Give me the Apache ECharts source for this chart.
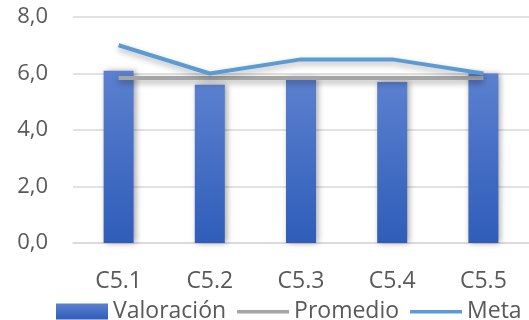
<!DOCTYPE html>
<html><head><meta charset="utf-8">
<script src="https://cdn.jsdelivr.net/npm/echarts@6/dist/echarts.min.js"></script>
<style>html,body{margin:0;padding:0;background:#fff}#c{width:529px;height:320px}</style>
</head><body><div id="c"></div>
<script>
const categories = ['C5.1','C5.2','C5.3','C5.4','C5.5'];
const valoracion = [6.1, 5.6, 5.8, 5.7, 6.0];
const promedio = [5.84, 5.84, 5.84, 5.84, 5.84];
const meta = [7.0, 6.0, 6.5, 6.5, 6.0];
const yTicks = [0, 2, 4, 6, 8];

const FONT = 'Open Sans';
const LINE_ICON = 'path://M0,0h0.01v0.01h-0.01z M0,6.5h52v3.5h-52z M51.99,16h0.01v0.01h-0.01z';
const chart = echarts.init(document.getElementById('c'), null, {renderer:'canvas'});
chart.setOption({
  animation:false,
  textStyle:{fontFamily:FONT},
  grid:{left:73, right:0, top:17, bottom:77},
  legend:{
    bottom:-8, left:51, itemWidth:52, itemHeight:16, itemGap:11,
    textStyle:{fontFamily:FONT, fontSize:23, color:'#595959', padding:[0,0,0,0]},
    data:[{name:'Valoración', icon:'rect'},{name:'Promedio', icon:LINE_ICON},{name:'Meta', icon:LINE_ICON}]
  },
  xAxis:{type:'category', data:categories,
    axisLine:{show:true, lineStyle:{color:'#D9D9D9', width:1.5}},
    axisTick:{show:false},
    axisLabel:{fontFamily:FONT, fontSize:23, color:'#595959', margin:27}
  },
  yAxis:{type:'value', min:yTicks[0], max:yTicks[yTicks.length-1], interval:2,
    axisLine:{show:false}, axisTick:{show:false},
    splitLine:{lineStyle:{color:'#D9D9D9', width:1.5}},
    axisLabel:{fontFamily:FONT, fontSize:22, color:'#595959', margin:25,
      formatter:v=>v.toFixed(1).replace('.',',')}
  },
  series:[
    {name:'Valoración', type:'bar', data:valoracion, barWidth:30,
      itemStyle:{color:new echarts.graphic.LinearGradient(0,0,0,1,[{offset:0,color:'#5B80CF'},{offset:1,color:'#2F5DB9'}]),
        shadowColor:'rgba(0,0,0,0.35)', shadowBlur:6, shadowOffsetX:2, shadowOffsetY:0}},
    {name:'Promedio', type:'line', data:promedio, symbol:'none',
      lineStyle:{color:'#A5A5A5', width:4, shadowColor:'rgba(0,0,0,0.35)', shadowBlur:6, shadowOffsetY:3},
      itemStyle:{color:'#A5A5A5'}},
    {name:'Meta', type:'line', data:meta, symbol:'none',
      lineStyle:{color:'#5B9BD5', width:4, shadowColor:'rgba(0,0,0,0.3)', shadowBlur:6, shadowOffsetY:3},
      itemStyle:{color:'#5B9BD5'}}
  ]
});
</script></body></html>
